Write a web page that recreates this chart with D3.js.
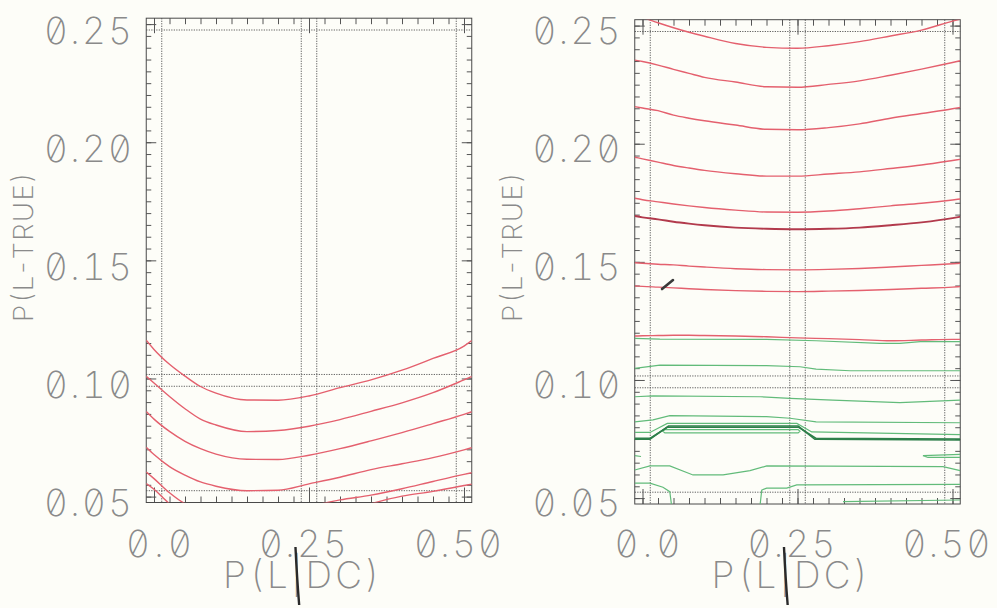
<!DOCTYPE html>
<html>
<head>
<meta charset="utf-8" />
<style>
    body { margin: 0; background: #fdfdf8; }
    svg { display: block; }
    .lbl {
        font-family: Inter, "DejaVu Sans Mono", sans-serif;
        font-weight: 200;
        font-feature-settings: "zero" 1, "tnum" 1;
        fill: #8a8a8a;
    }
    .frame { fill: none; stroke: #4a4a4a; stroke-width: 1; }
    .guide { stroke: #5a5a5a; stroke-width: 1; stroke-dasharray: 1.2, 1.3; }
    .ticks line { stroke: #555; }
    .ticks path { display: none; }
</style>
</head>
<body>
<svg width="997" height="608"></svg>
<script src="https://cdnjs.cloudflare.com/ajax/libs/d3/7.8.5/d3.min.js"></script>
<script>

    // ---- data ----
    var xTickVals = [0, 0.25, 0.5];
    var xTickText = ["0.0", "0.25", "0.50"];
    var yTickVals = [0.05, 0.10, 0.15, 0.20, 0.25];
    var yTickText = ["0.05", "0.10", "0.15", "0.20", "0.25"];
    var xTitle = "P(L|DC)";
    var yTitle = "P(L-TRUE)";

    // dotted guide lines (half a tick inside the frame, and the doubled ones)
    var xGuides = [0.0125, 0.2375, 0.2625, 0.4875];
    var yGuides = [0.0525, 0.0967, 0.1017, 0.2475];

    // common x grid for the red contours
    var gridX = [-0.0125, 0, 0.025, 0.05, 0.075, 0.1, 0.15, 0.2, 0.25, 0.3, 0.35, 0.4, 0.45, 0.5, 0.5125];

    // left panel, red contours
    var leftRed = [
        [0.1162, 0.1123, 0.1060, 0.1010, 0.0966, 0.0938, 0.0909, 0.0908, 0.0926, 0.0961, 0.0994, 0.1035, 0.1085, 0.1137, 0.1160],
        [0.1009, 0.0981, 0.0924, 0.0872, 0.0828, 0.0803, 0.0775, 0.0780, 0.0798, 0.0826, 0.0861, 0.0897, 0.0940, 0.0994, 0.1008],
        [0.0860, 0.0828, 0.0776, 0.0734, 0.0703, 0.0680, 0.0658, 0.0657, 0.0675, 0.0703, 0.0736, 0.0771, 0.0809, 0.0848, 0.0859],
        [0.0709, 0.0678, 0.0627, 0.0591, 0.0562, 0.0544, 0.0525, 0.0527, 0.0554, 0.0582, 0.0614, 0.0639, 0.0665, 0.0698, 0.0707],
        [0.0604, 0.0576, 0.0516, 0.0470, 0.0452, 0.0440, 0.0430, 0.0432, 0.0458, 0.0486, 0.0506, 0.0533, 0.0564, 0.0594, 0.0601],
        [0.0555, 0.0531, 0.0470, 0.0430, 0.0405, 0.0390, 0.0370, 0.0370, 0.0390, 0.0430, 0.0470, 0.0502, 0.0522, 0.0547, 0.0553]
    ];

    // right panel, red contours (index 5 is the darker one)
    var rightRed = [
        [0.2545, 0.2535, 0.2512, 0.2491, 0.2472, 0.2455, 0.2424, 0.2408, 0.2404, 0.2415, 0.2432, 0.2456, 0.2481, 0.2519, 0.2528],
        [0.2354, 0.2348, 0.2333, 0.2315, 0.2298, 0.2281, 0.2261, 0.2241, 0.2239, 0.2251, 0.2266, 0.2290, 0.2316, 0.2344, 0.2351],
        [0.2157, 0.2151, 0.2140, 0.2121, 0.2108, 0.2097, 0.2079, 0.2061, 0.2059, 0.2068, 0.2084, 0.2108, 0.2128, 0.2148, 0.2154],
        [0.1943, 0.1936, 0.1922, 0.1908, 0.1897, 0.1887, 0.1873, 0.1863, 0.1863, 0.1872, 0.1881, 0.1895, 0.1910, 0.1929, 0.1934],
        [0.1769, 0.1763, 0.1754, 0.1745, 0.1737, 0.1730, 0.1719, 0.1711, 0.1710, 0.1715, 0.1725, 0.1737, 0.1748, 0.1762, 0.1766],
        [0.1694, 0.1688, 0.1680, 0.1670, 0.1662, 0.1655, 0.1645, 0.1640, 0.1638, 0.1640, 0.1645, 0.1655, 0.1667, 0.1685, 0.1691],
        [0.1496, 0.1494, 0.1490, 0.1487, 0.1482, 0.1478, 0.1471, 0.1467, 0.1466, 0.1468, 0.1472, 0.1478, 0.1485, 0.1492, 0.1494],
        [0.1398, 0.1396, 0.1393, 0.1390, 0.1386, 0.1383, 0.1378, 0.1375, 0.1374, 0.1376, 0.1379, 0.1383, 0.1388, 0.1393, 0.1395],
        [0.1186, 0.1187, 0.1188, 0.1189, 0.1189, 0.1188, 0.1186, 0.1183, 0.1178, 0.1175, 0.1171, 0.1166, 0.1169, 0.1172, 0.1172]
    ];
    var darkRedIndex = 5;

    // right panel, green contours as [x, y] points (light ones)
    var greenLight = [
        [[-0.0125, 0.1176], [0.028, 0.1173], [0.2, 0.1172], [0.28, 0.1166], [0.383, 0.1155], [0.415, 0.1155], [0.448, 0.1162], [0.5125, 0.1162]],
        [[-0.0125, 0.1049], [0.028, 0.1063], [0.2, 0.1061], [0.254, 0.1056], [0.28, 0.1046], [0.335, 0.1039], [0.5125, 0.1039]],
        [[-0.0125, 0.0929], [0.017, 0.0933], [0.19, 0.0929], [0.238, 0.0922], [0.307, 0.0915], [0.415, 0.0904], [0.5125, 0.0915]],
        [[-0.0125, 0.0823], [0.017, 0.0831], [0.044, 0.0849], [0.2, 0.0845], [0.238, 0.0838], [0.28, 0.0823], [0.5125, 0.0819]],
        [[-0.0125, 0.0778], [0.012, 0.0778], [0.04, 0.0816], [0.249, 0.0816], [0.273, 0.0780], [0.5125, 0.0769]],
        [[0.036, 0.0790], [0.251, 0.0790], [0.254, 0.0783], [0.251, 0.0776], [0.036, 0.0776], [0.033, 0.0783], [0.036, 0.0790]],
        [[-0.0125, 0.0680], [-0.0024, 0.0676]],
        [[0.5125, 0.0685], [0.4524, 0.0680], [0.4605, 0.0672], [0.5125, 0.0672]],
        [[-0.0125, 0.0619], [0.012, 0.0636], [0.044, 0.0636], [0.0815, 0.0598], [0.13, 0.0598], [0.1734, 0.0616], [0.2003, 0.0636], [0.4847, 0.0633], [0.5125, 0.0616]],
        [[-0.0125, 0.0563], [0.012, 0.0563], [0.033, 0.0546], [0.044, 0.0527], [0.047, 0.0467]],
        [[0.1895, 0.0467], [0.1923, 0.0534], [0.2003, 0.0542], [0.2326, 0.0542], [0.2487, 0.0556], [0.5125, 0.0558]],
        [[0.3234, 0.0485], [0.5125, 0.0492]]
    ];
    // the heavy dark-green contour bundle
    var greenDark = [
        [[-0.0125, 0.0749], [0.012, 0.0749], [0.042, 0.0805], [0.251, 0.0805], [0.278, 0.0749], [0.5125, 0.0746]],
        [[-0.0125, 0.0753], [0.012, 0.0753], [0.040, 0.0800], [0.252, 0.0800], [0.280, 0.0753], [0.5125, 0.0750]]
    ];
    // stray pen stroke on the right panel
    var penMark = [[0.0315, 0.1385], [0.0492, 0.1423]];

    // ---- drawing ----
    var svg = d3.select("svg");
    svg.append("rect").attr("width", 997).attr("height", 608).attr("fill", "#fdfdf8");

    var x = d3.scaleLinear().domain([0, 0.5]).range([154, 464]);
    var y = d3.scaleLinear().domain([0.05, 0.25]).range([496.6, 24.1]);

    var fx0 = x(-0.0125), fx1 = x(0.5125), fy0 = y(0.2525), fy1 = y(0.0475);

    var panels = [{ dx: 0, dy: 0, id: "clipL" }, { dx: 488.5, dy: 1.5, id: "clipR" }];

    var line = d3.line().x(function (d) { return x(d[0]); }).y(function (d) { return y(d[1]); });
    var smooth = d3.line().curve(d3.curveMonotoneX)
        .x(function (d) { return x(d[0]); }).y(function (d) { return y(d[1]); });

    function onGrid(vals) {
        return gridX.map(function (g, i) { return [g, vals[i]]; });
    }

    var minorX = d3.range(0, 0.5001, 0.025), minorY = d3.range(0.05, 0.2501, 0.005);
    var majorY = yTickVals;

    panels.forEach(function (p, pi) {
        var g = svg.append("g").attr("transform", "translate(" + p.dx + "," + p.dy + ")");

        g.append("clipPath").attr("id", p.id)
            .append("rect").attr("x", fx0).attr("y", fy0)
            .attr("width", fx1 - fx0).attr("height", fy1 - fy0);

        // dotted guides
        g.selectAll(".gx").data(xGuides).enter().append("line").attr("class", "guide")
            .attr("x1", function (d) { return x(d); }).attr("x2", function (d) { return x(d); })
            .attr("y1", fy0).attr("y2", fy1);
        g.selectAll(".gy").data(yGuides).enter().append("line").attr("class", "guide")
            .attr("y1", function (d) { return y(d); }).attr("y2", function (d) { return y(d); })
            .attr("x1", fx0).attr("x2", fx1);

        // ticks pointing into the frame
        function ticks(axis, vals, size, tr) {
            g.append("g").attr("class", "ticks").attr("transform", tr)
                .call(axis.tickValues(vals).tickSize(size).tickFormat(""));
        }
        ticks(d3.axisBottom(x), minorX, 6, "translate(0," + fy0 + ")");
        ticks(d3.axisBottom(x), xTickVals, 15, "translate(0," + fy0 + ")");
        ticks(d3.axisTop(x), minorX, 6, "translate(0," + fy1 + ")");
        ticks(d3.axisTop(x), xTickVals, 15, "translate(0," + fy1 + ")");
        ticks(d3.axisRight(y), minorY, 5, "translate(" + fx0 + ",0)");
        ticks(d3.axisRight(y), majorY, 10, "translate(" + fx0 + ",0)");
        ticks(d3.axisLeft(y), minorY, 5, "translate(" + fx1 + ",0)");
        ticks(d3.axisLeft(y), majorY, 10, "translate(" + fx1 + ",0)");

        g.append("rect").attr("class", "frame")
            .attr("x", fx0).attr("y", fy0).attr("width", fx1 - fx0).attr("height", fy1 - fy0);

        // contours
        var c = g.append("g").attr("clip-path", "url(#" + p.id + ")").attr("fill", "none");
        if (pi === 0) {
            c.selectAll(".r").data(leftRed).enter().append("path")
                .attr("d", function (d) { return smooth(onGrid(d)); })
                .attr("stroke", "#e4606e").attr("stroke-width", 1.4);
        } else {
            c.selectAll(".r").data(rightRed).enter().append("path")
                .attr("d", function (d) { return smooth(onGrid(d)); })
                .attr("stroke", function (d, i) { return i === darkRedIndex ? "#b23a4c" : "#e4606e"; })
                .attr("stroke-width", function (d, i) { return i === darkRedIndex ? 1.9 : 1.4; });
            c.selectAll(".gl").data(greenLight).enter().append("path")
                .attr("d", line).attr("stroke", "#62bb7a").attr("stroke-width", 1.2);
            c.selectAll(".gd").data(greenDark).enter().append("path")
                .attr("d", line).attr("stroke", "#2e7f4a").attr("stroke-width", 1.6);
            c.append("path").attr("d", line(penMark))
                .attr("stroke", "#3a3a3a").attr("stroke-width", 2.6).attr("stroke-linecap", "round");
        }

        // tick labels
        g.selectAll(".yl").data(yTickVals).enter().append("text").attr("class", "lbl")
            .attr("x", 132).attr("y", function (d) { return y(d) + 19.5 - p.dy; })
            .attr("text-anchor", "end").attr("font-size", 37)
            .attr("textLength", function (d, i) { return yTickText[i].length * 22; })
            .attr("lengthAdjust", "spacing")
            .text(function (d, i) { return yTickText[i]; });

        g.selectAll(".xl").data(xTickVals).enter().append("text").attr("class", "lbl")
            .attr("x", function (d) { return x(d) + 38; }).attr("y", 557 - p.dy)
            .attr("text-anchor", "end").attr("font-size", 37)
            .attr("textLength", function (d, i) { return xTickText[i].length * 22; })
            .attr("lengthAdjust", "spacing")
            .text(function (d, i) { return xTickText[i]; });

        // x title; the bar was pen-drawn over the plotted one, so a dark stroke goes on top of its glyph
        var by = 588 - p.dy;
        var xt = g.append("text").attr("class", "lbl")
            .attr("x", 223).attr("y", by).attr("font-size", 37)
            .attr("textLength", 157).attr("lengthAdjust", "spacing")
            .text(xTitle);
        var bx = 223 + 3.5 * 22.4;
        try {
            var ext = xt.node().getExtentOfChar(xTitle.indexOf("|"));
            bx = ext.x + ext.width / 2;
        } catch (e) { }
        g.append("path")
            .attr("d", "M" + (bx - 1.2) + "," + (by - 41) + " Q" + (bx + 0.3) + "," + (by - 10) + " " + (bx + 2.5) + "," + (by + 17))
            .attr("fill", "none").attr("stroke", "#2a2a2a").attr("stroke-width", 2.4);

        g.append("text").attr("class", "lbl")
            .attr("transform", "translate(33," + (247 - p.dy) + ") rotate(-90)")
            .attr("text-anchor", "middle").attr("font-size", 27.5)
            .attr("textLength", 150).attr("lengthAdjust", "spacing")
            .text(yTitle);
    });

</script>
</body>
</html>
